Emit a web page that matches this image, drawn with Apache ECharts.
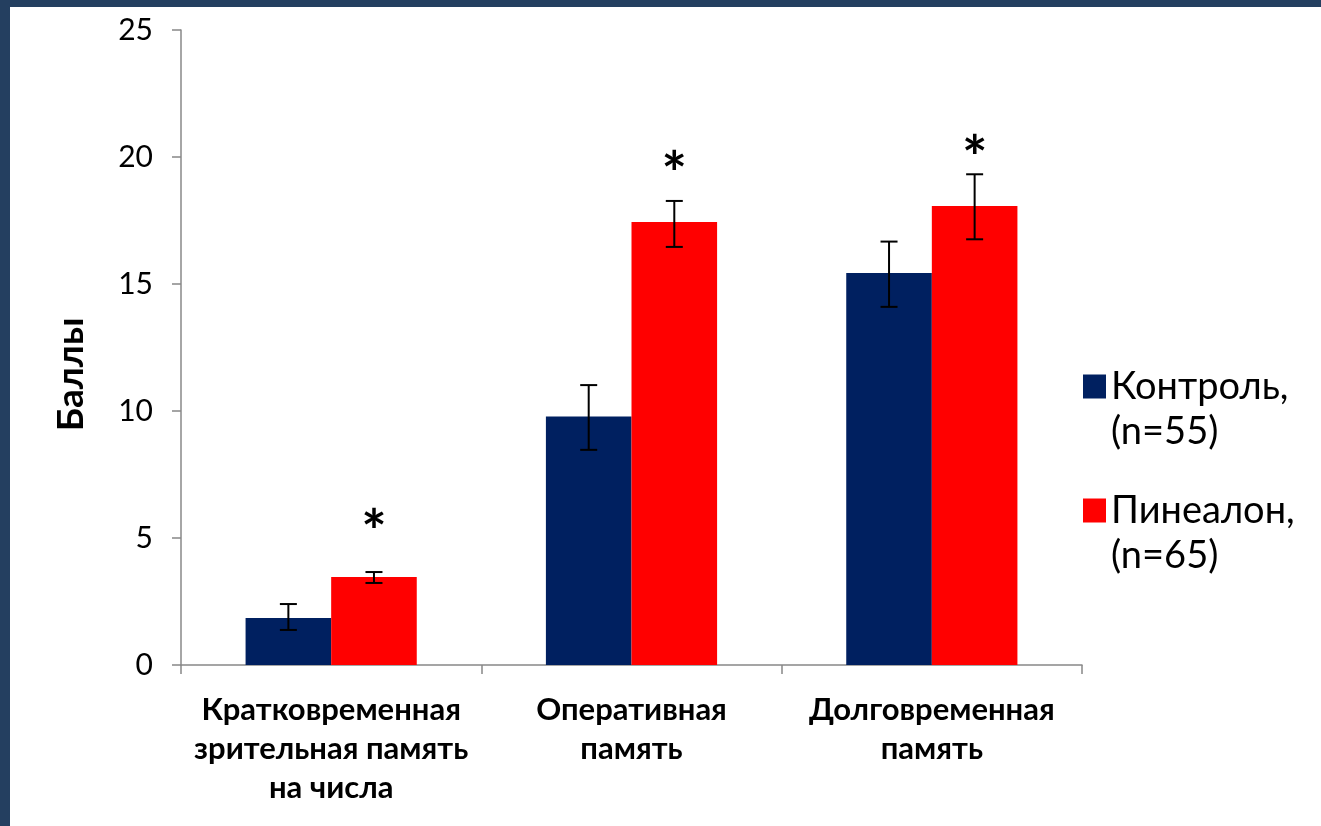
<!DOCTYPE html>
<html>
<head>
<meta charset="utf-8">
<script src="https://cdn.jsdelivr.net/npm/echarts@6/dist/echarts.min.js"></script>
<style>
html, body { margin: 0; padding: 0; background: #ffffff; }
#frame { position: absolute; left: 0; top: 0; width: 1321px; height: 826px; box-sizing: border-box;
  border-top: 7px solid #243F60; border-left: 10px solid #243F60; background: #ffffff; }
#chart { width: 1311px; height: 819px; }
</style>
</head>
<body>
<div id="frame"><div id="chart"></div></div>
<script>
// ---- data ----
const categories = ['Кратковременная\nзрительная память\nна числа', 'Оперативная\nпамять', 'Долговременная\nпамять'];
const seriesNames = ['Контроль,\n(n=55)', 'Пинеалон,\n(n=65)'];
const controlValues = [1.85, 9.78, 15.43];
const controlLow = [1.38, 8.47, 14.1];
const controlHigh = [2.4, 11.02, 16.67];
const pinealonValues = [3.46, 17.44, 18.07];
const pinealonLow = [3.23, 16.46, 16.76];
const pinealonHigh = [3.66, 18.27, 19.32];
const starLabels = ['*', '*', '*'];
const starLevel = [5.7, 19.76, 20.4];
const yTicks = { min: 0, max: 25, interval: 5 };

const FONT = 'Lato, "Open Sans", sans-serif';
const BAR_FRACTION = 0.57;

function errorBarRenderer(sign) {
  return function (params, api) {
    const idx = api.value(0);
    const lo = api.coord([idx, api.value(1)]);
    const hi = api.coord([idx, api.value(2)]);
    const band = api.size([1, 0])[0];
    const x = lo[0] + sign * band * BAR_FRACTION / 4;
    const w = 8.5;
    const st = { stroke: '#000', lineWidth: 2 };
    return {
      type: 'group',
      children: [
        { type: 'line', shape: { x1: x, y1: lo[1], x2: x, y2: hi[1] }, style: st },
        { type: 'line', shape: { x1: x - w, y1: hi[1], x2: x + w, y2: hi[1] }, style: st },
        { type: 'line', shape: { x1: x - w, y1: lo[1], x2: x + w, y2: lo[1] }, style: st }
      ]
    };
  };
}

function starRenderer(params, api) {
  const idx = api.value(0);
  const p = api.coord([idx, api.value(1)]);
  const band = api.size([1, 0])[0];
  const x = p[0] + band * BAR_FRACTION / 4;
  return {
    type: 'text',
    style: {
      text: starLabels[params.dataIndex], x: x, y: p[1] + 13,
      align: 'center', verticalAlign: 'middle',
      font: 'bold 60px ' + FONT, fill: '#000'
    }
  };
}

const chart = echarts.init(document.getElementById('chart'), null, { renderer: 'canvas' });
chart.setOption({
  backgroundColor: '#ffffff',
  animation: false,
  grid: { left: 171, right: 239, top: 23, bottom: 161, containLabel: false },
  legend: {
    orient: 'vertical', left: 1073, top: 312, padding: 0,
    itemWidth: 23, itemHeight: 24, itemGap: -11,
    icon: 'rect',
    data: seriesNames,
    formatter: function (name) { return '\n' + name; },
    textStyle: { fontFamily: FONT, fontSize: 38, color: '#000', lineHeight: 45 }
  },
  xAxis: {
    type: 'category', data: categories,
    axisLine: { show: true, lineStyle: { color: '#888', width: 1.5 } },
    axisTick: { show: true, alignWithLabel: false, length: 9, lineStyle: { color: '#888', width: 1.5 } },
    axisLabel: { interval: 0, margin: 25, fontFamily: FONT, fontWeight: 'bold', fontSize: 31, lineHeight: 39, color: '#000' }
  },
  yAxis: {
    type: 'value', min: yTicks.min, max: yTicks.max, interval: yTicks.interval,
    name: 'Баллы', nameLocation: 'middle', nameGap: 91, nameRotate: 90,
    nameTextStyle: { fontFamily: FONT, fontWeight: 'bold', fontSize: 37, color: '#000', padding: [0, 54, 0, 0] },
    axisLine: { show: true, lineStyle: { color: '#888', width: 1.5 } },
    axisTick: { show: true, length: 9, lineStyle: { color: '#888', width: 1.5 } },
    splitLine: { show: false },
    axisLabel: { margin: 28, fontFamily: FONT, fontSize: 30, color: '#000' }
  },
  series: [
    { name: seriesNames[0], type: 'bar', data: controlValues, itemStyle: { color: '#002060' },
      barGap: '0%', barCategoryGap: '43%' },
    { name: seriesNames[1], type: 'bar', data: pinealonValues, itemStyle: { color: '#FF0000' },
      barGap: '0%', barCategoryGap: '43%' },
    { type: 'custom', renderItem: errorBarRenderer(-1), z: 5,
      data: controlValues.map((v, i) => [i, controlLow[i], controlHigh[i]]),
      encode: { x: 0, y: [1, 2] }, silent: true },
    { type: 'custom', renderItem: errorBarRenderer(1), z: 5,
      data: pinealonValues.map((v, i) => [i, pinealonLow[i], pinealonHigh[i]]),
      encode: { x: 0, y: [1, 2] }, silent: true },
    { type: 'custom', renderItem: starRenderer, z: 6,
      data: starLevel.map((v, i) => [i, v]), encode: { x: 0, y: 1 }, silent: true }
  ]
});
</script>
</body>
</html>
